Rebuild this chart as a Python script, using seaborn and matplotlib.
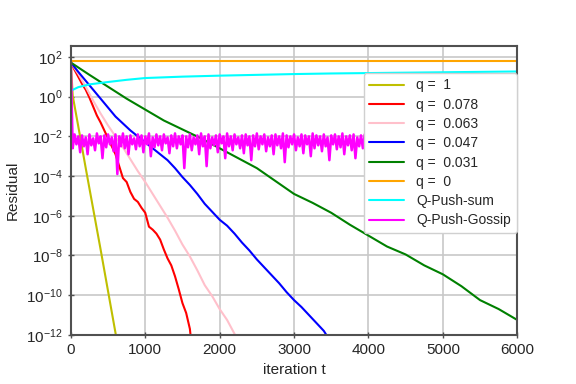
import numpy as np
import pandas as pd
import matplotlib
matplotlib.use("Agg")
import matplotlib.pyplot as plt
import seaborn as sns

# values, stored as log10(residual)
t_q1 = [0, 25, 100, 200, 300, 400, 500, 600, 650]
r_q1 = [1.72, 0.05, -1.5, -3.6, -5.65, -7.7, -9.8, -11.9, -13.0]

t_q078 = list(range(0, 1651, 50))
r_q078 = [1.72, 1.35, 1.0, 0.65, 0.35, -0.05, -0.5, -0.95, -1.3, -1.7,
          -2.1, -2.5, -2.9, -3.5, -4.1, -4.3, -4.8, -5.15, -5.3, -5.6,
          -5.85, -6.55, -6.7, -6.9, -7.2, -7.7, -8.15, -8.5, -9.05, -9.7,
          -10.4, -10.9, -11.7, -13.5]

t_q063 = list(range(0, 2301, 100))
r_q063 = [1.72, 1.15, 0.5, -0.2, -0.85, -1.45, -2.0, -2.55, -3.15, -3.75,
          -4.3, -4.9, -5.5, -6.1, -6.75, -7.45, -8.05, -8.75, -9.5, -10.05,
          -10.7, -11.25, -11.95, -12.8]

t_q047 = list(range(0, 3501, 100))
r_q047 = [1.72, 1.25, 0.8, 0.35, -0.1, -0.55, -1.0, -1.35, -1.7, -2.0,
          -2.3, -2.6, -2.9, -3.2, -3.6, -4.05, -4.45, -4.9, -5.4, -5.8,
          -6.2, -6.5, -6.9, -7.35, -7.75, -8.2, -8.6, -9.0, -9.4, -9.85,
          -10.25, -10.6, -11.0, -11.4, -11.8, -12.4]

t_q031 = list(range(0, 6001, 250))
r_q031 = [1.72, 1.1, 0.5, -0.1, -0.65, -1.2, -1.65, -2.1, -2.6, -3.1,
          -3.6, -4.25, -4.9, -5.35, -5.85, -6.45, -7.0, -7.55, -7.95, -8.5,
          -8.95, -9.55, -10.25, -10.7, -11.25]

t_q0 = [0, 6000]
r_q0 = [1.81, 1.81]

t_sum = [0, 100, 250, 500, 750, 1000, 1500, 2000, 2500, 3000, 3500, 4000,
         4500, 5000, 5500, 6000]
r_sum = [0.30, 0.48, 0.62, 0.74, 0.85, 0.94, 1.01, 1.06, 1.10, 1.14, 1.17,
         1.19, 1.21, 1.23, 1.25, 1.27]

t_gossip = list(range(0, 6001, 25))
r_gossip = [1.72,
    -2.6, -1.9, -2.4, -2.0, -2.8, -1.95, -2.5, -2.05, -2.9, -1.9, -2.45, -2.1,
    -2.7, -1.85, -2.35, -2.0, -3.1, -1.95, -2.55, -1.9, -2.4, -2.05, -2.75, -1.9,
    -3.9, -2.0, -2.5, -1.85, -2.6, -2.0, -2.9, -1.95, -2.4, -2.1, -2.65, -1.9,
    -2.5, -1.95, -2.8, -2.0, -2.4, -1.85, -3.0, -2.05, -2.55, -1.9, -2.45, -2.0,
    -2.7, -1.9, -2.35, -2.05, -2.85, -1.95, -2.5, -1.85, -2.6, -2.0, -2.4, -1.95,
    -3.6, -2.0, -2.55, -1.9, -2.7, -2.05, -2.4, -1.95, -2.9, -1.85, -2.5, -2.0,
    -3.5, -1.9, -2.6, -2.05, -2.45, -1.95, -2.8, -1.9, -2.35, -2.0, -3.1, -1.85,
    -2.5, -2.0, -2.7, -1.9, -2.4, -2.05, -2.6, -1.95, -2.85, -1.9, -2.45, -2.0,
    -3.2, -1.95, -2.5, -1.85, -2.65, -2.0, -2.4, -1.9, -2.75, -2.05, -2.5, -1.95,
    -2.9, -1.9, -2.45, -2.0, -2.6, -1.85, -3.3, -1.95, -2.55, -2.0, -2.4, -1.9,
    -2.7, -2.05, -2.5, -1.9, -2.85, -1.95, -2.4, -2.0, -3.0, -1.85, -2.6, -1.95,
    -2.45, -2.0, -2.75, -1.9, -2.5, -2.05, -3.2, -1.95, -2.4, -1.9, -2.65, -2.0,
    -2.55, -1.85, -2.9, -2.0, -2.45, -1.95, -2.7, -1.9, -3.1, -2.05, -2.5, -1.95,
    -2.6, -1.9, -3.3, -2.0, -2.45, -1.95, -2.7, -1.85, -2.5, -2.0, -2.85, -1.9,
    -2.4, -2.05, -2.6, -1.95, -3.0, -1.9, -2.5, -2.0, -2.75, -1.85, -2.45, -1.95,
    -2.65, -2.0, -2.4, -1.9, -2.9, -2.05, -2.55, -1.95, -2.4, -1.9, -3.15, -2.0,
    -2.5, -1.85, -2.7, -2.0, -2.45, -1.95, -2.8, -1.9, -2.55, -2.05, -2.4, -1.95,
    -3.05, -1.9, -2.6, -2.0, -2.5, -1.85, -2.75, -1.95, -2.4, -2.0, -2.9, -1.9,
    -2.55, -2.05, -2.45, -1.95, -3.2, -1.9, -2.6, -2.0, -2.5, -1.85, -2.7, -1.95,
    -2.4, -2.0, -2.85, -1.9, -2.55, -1.95, -2.45, -2.05, -2.65, -1.9, -2.5, -2.6]

labels = ["q =  1", "q =  0.078", "q =  0.063", "q =  0.047", "q =  0.031",
          "q =  0", "Q-Push-sum", "Q-Push-Gossip"]
colors = ["#bfbf00", "red", "pink", "blue", "green", "orange", "cyan", "magenta"]
series = [(t_q1, r_q1), (t_q078, r_q078), (t_q063, r_q063), (t_q047, r_q047),
          (t_q031, r_q031), (t_q0, r_q0), (t_sum, r_sum), (t_gossip, r_gossip)]

frames = []
for lab, (t, r) in zip(labels, series):
    frames.append(pd.DataFrame({"t": t, "residual": 10.0 ** np.array(r), "method": lab}))
df = pd.concat(frames, ignore_index=True)

sns.set_style("white")
plt.rcParams["font.family"] = ["Liberation Sans", "DejaVu Sans"]
plt.rcParams["mathtext.fontset"] = "custom"
plt.rcParams["mathtext.rm"] = "Liberation Sans"
plt.rcParams["mathtext.it"] = "Liberation Sans:italic"

fig, ax = plt.subplots(figsize=(5.76, 3.84), dpi=100)
fig.subplots_adjust(left=0.123, right=0.898, top=0.880, bottom=0.128)

sns.lineplot(data=df, x="t", y="residual", hue="method", hue_order=labels,
             palette=dict(zip(labels, colors)), estimator=None, sort=False,
             linewidth=1.5, ax=ax, legend=False)
# the gossip band is drawn a touch thicker so it reads as a solid noisy band
ax.lines[-1].set_linewidth(1.8)

ax.set_yscale("log")
ax.set_xlim(0, 6000)
ax.set_ylim(1e-12, 10 ** 2.55)
ax.set_yticks([10.0 ** k for k in range(2, -13, -2)])
ax.minorticks_off()
ax.set_xticks(range(0, 6001, 1000))
ax.grid(True, color="#c8c8c8", linewidth=1.2)
ax.set_axisbelow(True)
for s in ax.spines.values():
    s.set_color("#505050")
    s.set_linewidth(1.5)
ax.tick_params(direction="inout", length=5, width=1, color="#505050",
               labelsize=11, left=True, bottom=True)
ax.set_xlabel("iteration t", fontsize=11)
ax.set_ylabel("Residual", fontsize=11)

handles = [plt.Line2D([], [], color=c, linewidth=1.5) for c in colors]
leg = ax.legend(handles, labels, loc="upper right", bbox_to_anchor=(0.999, 0.907),
                borderaxespad=0, fontsize=10, framealpha=1, edgecolor="#d0d0d0",
                handlelength=2.5, labelspacing=0.38, handletextpad=0.9)

fig.savefig("out.png", dpi=100)
